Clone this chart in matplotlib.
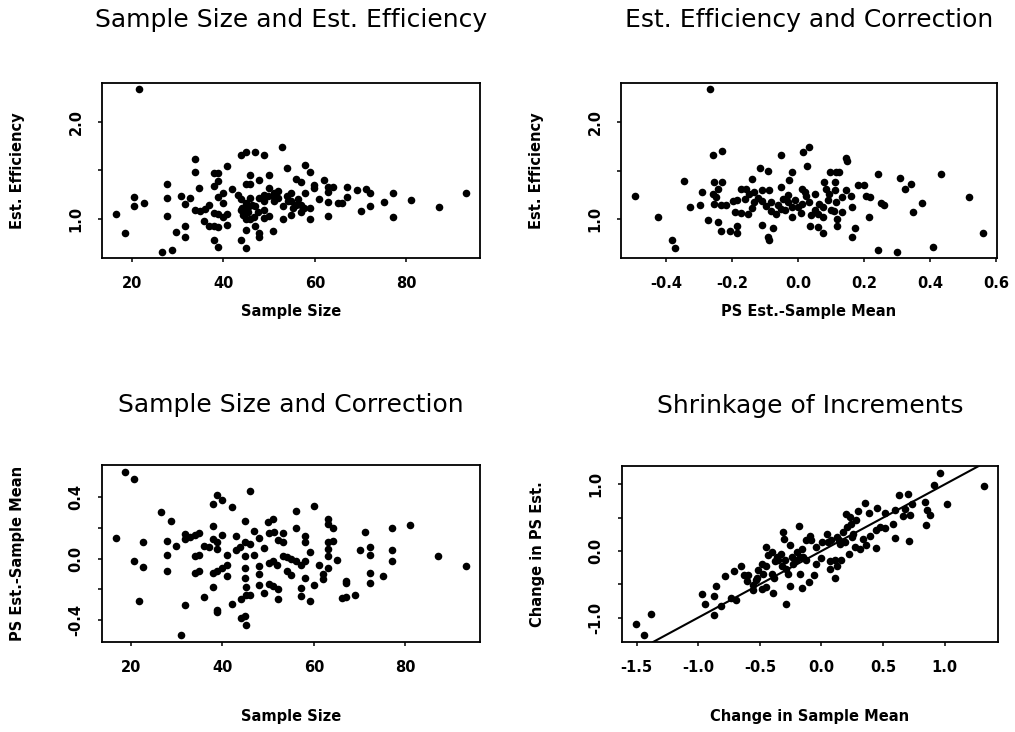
import matplotlib
matplotlib.use("Agg")
import matplotlib.pyplot as plt

plt.rcParams['font.family'] = ['DejaVu Sans']

# ---- panel 1: sample size vs estimated efficiency
size1 = [21.6, 16.6, 18.6, 20.6, 20.6, 22.7, 26.6, 28.8, 27.8, 27.8, 27.8, 29.7, 31.7, 31.7,
         30.7, 31.7, 32.8, 33.8, 33.8, 34.8, 33.8, 34.9, 36.0, 36.9, 35.9, 36.9, 37.9, 38.9,
         37.9, 38.9, 37.9, 38.9, 38.9, 37.9, 38.9, 39.9, 39.9, 38.8, 37.9, 40.9, 39.9, 40.8,
         40.9, 42.0, 43.2, 43.9, 44.9, 46.9, 48.9, 52.9, 45.9, 44.9, 45.9, 47.9, 49.9, 49.9,
         43.9, 44.9, 43.9, 44.3, 45.4, 45.9, 44.9, 45.9, 46.9, 47.9, 47.9, 44.9, 43.9, 44.9,
         46.9, 47.9, 49.0, 49.0, 49.0, 49.9, 50.9, 51.0, 51.0, 51.9, 52.0, 53.0, 53.0, 53.9,
         54.0, 54.9, 54.9, 54.9, 55.9, 56.9, 57.9, 59.0, 57.9, 55.9, 56.9, 56.9, 59.0, 59.0,
         59.9, 59.9, 61.0, 61.9, 62.9, 62.9, 64.0, 62.9, 62.9, 65.0, 66.0, 67.0, 67.0, 69.1,
         71.1, 72.0, 70.1, 72.0, 75.1, 77.0, 77.0, 81.1, 87.0, 93.0,
         44.2, 44.6, 45.4, 46.3, 49.0, 49.7, 50.8, 54.1, 55.2, 56.3, 57.7, 46.8, 47.5]
eff1 = [2.33, 1.05, 0.85, 1.22, 1.13, 1.16, 0.66, 0.68, 1.36, 1.21, 1.03, 0.86, 0.92, 0.81,
        1.23, 1.15, 1.21, 1.61, 1.48, 1.31, 1.09, 1.08, 1.10, 1.14, 0.97, 0.92, 0.92, 0.91,
        0.78, 0.71, 1.47, 1.47, 1.39, 1.34, 1.22, 1.26, 1.16, 1.05, 1.06, 1.05, 1.02, 0.93,
        1.54, 1.30, 1.24, 1.65, 1.69, 1.69, 1.65, 1.74, 1.45, 1.36, 1.36, 1.40, 1.45, 1.31,
        1.20, 1.16, 1.09, 1.04, 1.07, 1.21, 0.99, 0.99, 0.92, 0.85, 0.81, 0.88, 0.78, 0.70,
        1.13, 1.21, 1.24, 1.09, 1.01, 1.03, 0.87, 1.18, 1.26, 1.28, 1.21, 1.13, 0.99, 1.52,
        1.23, 1.26, 1.18, 1.04, 1.41, 1.38, 1.55, 1.48, 1.26, 1.14, 1.14, 1.07, 0.99, 1.11,
        1.35, 1.31, 1.20, 1.40, 1.33, 1.27, 1.33, 1.17, 1.03, 1.16, 1.16, 1.33, 1.22, 1.29,
        1.30, 1.26, 1.08, 1.13, 1.17, 1.26, 1.02, 1.19, 1.12, 1.26,
        1.11, 1.06, 1.12, 1.14, 1.18, 1.23, 1.23, 1.18, 1.11, 1.20, 1.11, 1.02, 1.07]

# ---- panel 2: correction vs estimated efficiency
corr2 = [-0.266, -0.494, -0.424, -0.382, -0.373, -0.346, -0.327, -0.296, -0.292, -0.258,
         -0.229, -0.254, -0.231, -0.241, -0.259, -0.249, -0.254, -0.234, -0.219, -0.198,
         -0.184, -0.272, -0.244, -0.233, -0.207, -0.184, -0.184, -0.192, -0.172, -0.153,
         -0.173, -0.158, -0.141, -0.148, -0.133, -0.134, -0.161, -0.114, -0.090, -0.051,
         -0.108, -0.088, -0.108, -0.098, -0.083, -0.083, -0.068, -0.052, -0.052, -0.047,
         -0.032, -0.029, -0.017, -0.017, -0.019, -0.110, -0.075, -0.091, -0.087, 0.016,
         0.033, 0.027, 0.013, 0.023, 0.013, 0.033, 0.008, 0.038, 0.035, 0.061, 0.075, 0.052,
         0.064, 0.076, 0.074, 0.079, 0.084, 0.094, 0.096, 0.112, 0.114, 0.112, 0.114, 0.109,
         0.119, 0.119, 0.124, 0.144, 0.147, 0.134, 0.134, 0.144, 0.159, 0.162, 0.162, 0.171,
         0.182, 0.200, 0.205, 0.218, 0.215, 0.241, 0.250, 0.260, 0.242, 0.307, 0.342, 0.325,
         0.375, 0.349, 0.298, 0.408, 0.433, 0.517, 0.560,
         -0.06, -0.04, 0.0, -0.01, 0.05, 0.09, 0.10, -0.12, 0.02, 0.06, -0.14, -0.03]
eff2 = [2.33, 1.24, 1.02, 0.79, 0.71, 1.39, 1.13, 1.15, 1.28, 1.66, 1.70, 1.38, 1.38, 1.31,
        1.26, 1.23, 1.16, 1.15, 1.15, 1.19, 1.20, 0.99, 0.97, 0.88, 0.88, 0.86, 0.93, 1.07,
        1.06, 1.05, 1.31, 1.31, 1.41, 1.26, 1.28, 1.18, 1.21, 1.53, 1.49, 1.66, 1.30, 1.30,
        1.19, 1.14, 1.18, 1.09, 1.05, 1.11, 1.33, 1.21, 1.18, 1.40, 1.48, 1.13, 1.02, 0.94,
        0.91, 0.82, 0.79, 1.69, 1.74, 1.55, 1.31, 1.24, 1.16, 1.18, 1.06, 1.04, 0.93, 0.92,
        0.86, 1.26, 1.16, 1.13, 1.02, 1.38, 1.31, 1.26, 1.48, 1.38, 1.48, 1.30, 1.18, 1.09,
        1.00, 0.93, 1.48, 1.63, 1.60, 1.23, 1.07, 1.30, 1.24, 1.13, 0.82, 0.91, 1.35, 1.35,
        1.24, 1.23, 1.02, 1.46, 1.17, 1.15, 0.69, 1.42, 1.36, 1.31, 1.17, 1.07, 0.67, 0.72,
        1.46, 1.23, 0.86,
        1.15, 1.10, 1.13, 1.20, 1.10, 1.20, 1.10, 1.22, 1.28, 1.05, 1.12, 1.25]

# ---- panel 3: sample size vs correction
size3 = [18.6, 20.6, 16.7, 22.7, 20.7, 22.7, 21.8, 26.6, 28.8, 27.9, 27.9, 27.9, 29.8, 31.9,
         30.9, 31.8, 31.8, 32.9, 33.9, 34.9, 33.9, 34.9, 33.9, 34.9, 35.9, 37.0, 35.9, 38.0,
         38.9, 39.9, 42.1, 38.0, 38.0, 38.9, 38.9, 39.9, 38.0, 38.9, 39.9, 40.9, 40.9, 41.0,
         38.0, 38.9, 38.9, 42.1, 42.9, 42.9, 43.9, 44.9, 45.0, 46.1, 44.9, 44.9, 45.0, 45.1,
         45.1, 44.1, 46.1, 44.1, 45.0, 45.1, 46.1, 47.0, 47.0, 48.0, 48.0, 49.0, 48.0, 48.0,
         49.1, 50.0, 51.0, 50.1, 51.2, 50.1, 51.0, 52.0, 50.1, 51.0, 52.2, 52.2, 53.2, 52.2,
         53.2, 53.2, 54.2, 55.1, 54.2, 55.1, 56.1, 56.1, 56.1, 57.1, 58.0, 58.0, 59.1, 58.0,
         58.0, 57.1, 57.1, 59.1, 60.0, 60.0, 61.2, 62.0, 62.0, 63.0, 63.1, 64.1, 64.1, 63.1,
         63.1, 63.1, 63.1, 65.1, 67.1, 67.1, 66.1, 67.1, 69.1, 71.2, 70.2, 72.2, 72.2, 72.2,
         72.2, 75.1, 77.1, 77.1, 77.1, 81.1, 87.1, 93.3]
corr3 = [0.563, 0.517, 0.135, 0.104, -0.017, -0.052, -0.272, 0.298, 0.241, 0.113, 0.024,
         -0.083, 0.078, -0.302, -0.498, 0.161, 0.126, 0.141, 0.152, 0.165, 0.017, 0.024,
         -0.091, -0.080, 0.083, 0.072, -0.248, 0.350, 0.413, 0.376, 0.333, 0.209, 0.126,
         0.109, 0.061, 0.152, -0.096, -0.080, -0.059, -0.043, -0.113, 0.026, -0.185, -0.335,
         -0.348, -0.293, 0.143, 0.057, 0.072, 0.104, 0.243, 0.435, 0.017, -0.059, -0.124,
         -0.185, -0.233, -0.261, -0.233, -0.385, -0.374, -0.428, 0.093, 0.180, 0.022, 0.130,
         -0.048, 0.065, -0.102, -0.174, -0.226, 0.239, 0.257, 0.165, 0.174, -0.030, -0.015,
         -0.043, -0.167, -0.178, -0.200, -0.261, 0.104, 0.122, 0.165, 0.017, 0.007, -0.004,
         -0.080, -0.109, 0.307, 0.196, -0.015, -0.043, 0.148, 0.109, 0.039, -0.015, -0.124,
         -0.189, -0.243, -0.274, 0.343, -0.174, -0.043, -0.102, -0.135, 0.257, 0.224, 0.196,
         0.115, 0.104, 0.061, 0.017, -0.059, -0.009, -0.146, -0.161, -0.254, -0.248, -0.239,
         0.174, 0.057, 0.076, 0.024, -0.096, -0.161, -0.113, 0.196, 0.052, -0.015, 0.220,
         0.015, -0.048]

# ---- panel 4: change in sample mean vs change in PS estimate
dmean = [-1.505, -1.441, -1.386, -0.965, -0.946, -0.870, -0.857, -0.868, -0.816, -0.781,
         -0.730, -0.695, -0.708, -0.649, -0.630, -0.595, -0.554, -0.554, -0.527, -0.514,
         -0.486, -0.473, -0.486, -0.446, -0.392, -0.446, -0.405, -0.432, -0.451, -0.405,
         -0.386, -0.311, -0.305, -0.257, -0.351, -0.324, -0.297, -0.284, -0.268, -0.257,
         -0.284, -0.243, -0.230, -0.203, -0.181, -0.176, -0.176, -0.149, -0.154, -0.100,
         -0.122, -0.122, -0.095, -0.081, -0.041, -0.062, -0.041, 0.008, 0.046, 0.054, 0.081,
         0.068, 0.068, 0.108, 0.130, 0.108, 0.162, 0.149, 0.122, 0.176, 0.189, 0.203, 0.230,
         0.243, 0.257, 0.208, 0.284, 0.297, 0.270, 0.311, 0.338, 0.365, 0.354, 0.386, 0.451,
         0.446, 0.397, 0.446, 0.473, 0.514, 0.514, 0.595, 0.595, 0.630, 0.662, 0.703, 0.716,
         0.711, 0.738, 0.838, 0.857, 0.884, 0.851, 0.914, 0.959, 1.019, 1.319, 0.676,
         -0.38, -0.36, -0.33, -0.20, 0.14, 0.0, -0.52, -0.60, 0.25, 0.58, 0.22, -0.16]
dps = [-1.103, -1.268, -0.952, -0.652, -0.792, -0.682, -0.531, -0.967, -0.827, -0.381,
       -0.702, -0.732, -0.301, -0.231, -0.356, -0.366, -0.516, -0.591, -0.441, -0.291,
       -0.190, -0.341, -0.566, -0.541, -0.632, 0.060, -0.015, -0.065, -0.231, -0.341,
       -0.401, 0.286, 0.185, 0.085, -0.130, -0.231, -0.140, -0.266, -0.341, -0.531, -0.802,
       -0.090, -0.190, -0.140, 0.371, -0.090, -0.341, -0.090, -0.551, -0.466, -0.140, 0.160,
       0.221, 0.160, -0.200, -0.366, 0.060, 0.135, 0.251, 0.135, 0.160, -0.150, -0.266,
       -0.140, -0.231, -0.401, -0.130, 0.100, 0.211, 0.286, 0.135, 0.561, 0.511, 0.411,
       0.261, 0.361, 0.461, 0.601, 0.060, 0.035, 0.185, 0.085, 0.727, 0.571, 0.652, 0.050,
       0.221, 0.311, 0.361, 0.351, 0.571, 0.611, 0.200, 0.837, 0.521, 0.852, 0.536, 0.145,
       0.702, 0.737, 0.622, 0.536, 0.386, 0.987, 1.178, 0.712, 0.982, 0.637,
       -0.15, -0.09, -0.05, -0.02, 0.16, -0.10, -0.40, -0.45, 0.21, 0.41, -0.05, 0.03]

W, H = 1015, 732
fig = plt.figure(figsize=(W / 100, H / 100), dpi=100)


def panel(rect, x, y, title, xlabel, ylabel, xticks, yticks, ylabels, title_pad, xlab_y):
    l, t, r, b = rect
    ax = fig.add_axes([l / W, 1 - b / H, (r - l) / W, (b - t) / H])
    ax.scatter(x, y, s=30, color='black', linewidths=0, zorder=3)
    ax.margins(0.04)
    ax.set_xticks(xticks)
    ax.set_xticklabels([('%g' % v if abs(v) >= 2 else '%.1f' % v) for v in xticks],
                       fontweight='bold', fontsize=10.5)
    ax.set_yticks(yticks)
    ax.set_yticklabels(ylabels, fontweight='bold', fontsize=10.5, rotation=90, va='center')
    ax.tick_params(direction='out', length=3.2, width=1.1, pad=10)
    for sp in ax.spines.values():
        sp.set_linewidth(1.3)
    ax.set_title(title, fontsize=18, pad=title_pad)
    ax.set_xlabel(xlabel, fontweight='bold', fontsize=10.5)
    ax.set_ylabel(ylabel, fontweight='bold', fontsize=10.5)
    ax.xaxis.set_label_coords(0.5, xlab_y)
    ax.yaxis.set_label_coords(-0.205, 0.5)
    return ax


panel((102, 83, 480, 258), size1, eff1, 'Sample Size and Est. Efficiency',
      'Sample Size', 'Est. Efficiency', [20, 40, 60, 80], [1.0, 1.5, 2.0], ['1.0', '', '2.0'],
      40, -0.263)
panel((621, 83, 997, 258), corr2, eff2, 'Est. Efficiency and Correction',
      'PS Est.-Sample Mean', 'Est. Efficiency', [-0.4, -0.2, 0.0, 0.2, 0.4, 0.6],
      [1.0, 1.5, 2.0], ['1.0', '', '2.0'], 40, -0.263)
panel((102, 465, 480, 642), size3, corr3, 'Sample Size and Correction',
      'Sample Size', 'PS Est.-Sample Mean', [20, 40, 60, 80],
      [-0.4, -0.2, 0.0, 0.2, 0.4], ['-0.4', '', '0.0', '', '0.4'], 38, -0.379)
ax4 = panel((622, 466, 998, 642), dmean, dps, 'Shrinkage of Increments',
            'Change in Sample Mean', 'Change in PS Est.', [-1.5, -1.0, -0.5, 0.0, 0.5, 1.0],
            [-1.0, -0.5, 0.0, 0.5, 1.0], ['-1.0', '', '0.0', '', '1.0'], 38, -0.379)
ax4.axline((0, 0), slope=1, color='black', linewidth=1.5, zorder=2)

fig.savefig('out.png', dpi=100, facecolor='white')
